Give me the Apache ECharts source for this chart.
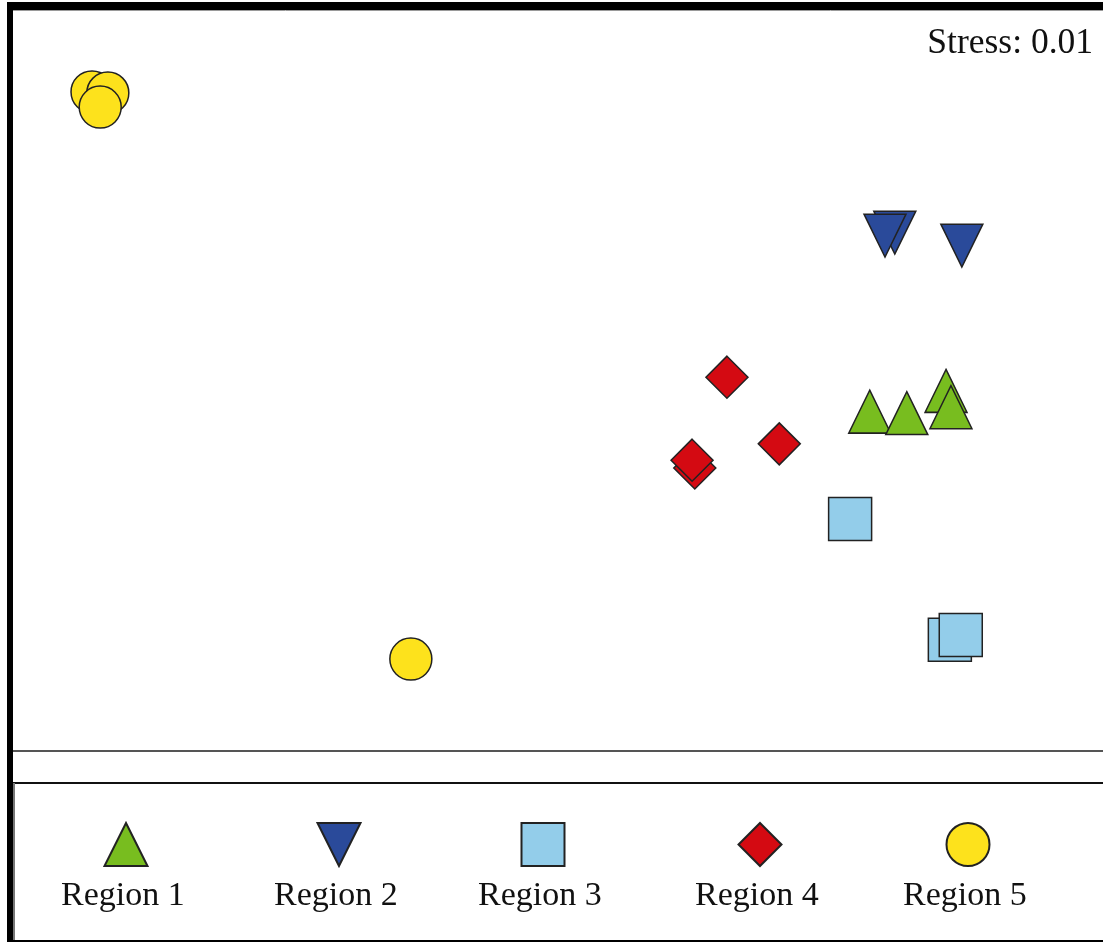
<!DOCTYPE html>
<html>
<head>
<meta charset="utf-8">
<title>NMDS ordination by region</title>
<script src="https://cdn.jsdelivr.net/npm/echarts@6/dist/echarts.min.js"></script>
<style>
  html, body { margin: 0; padding: 0; background: #ffffff; }
  #chart { width: 1103px; height: 942px; }
</style>
</head>
<body>
<div id="chart"></div>
<script>
// NMDS site scores (axis 1, axis 2) for each region
const regionNames = ['Region 1', 'Region 2', 'Region 3', 'Region 4', 'Region 5'];
const region1 = [[0.572, -0.084], [0.640, -0.088], [0.712, -0.028], [0.721, -0.072]];
const region2 = [[0.618, 0.399], [0.600, 0.391], [0.741, 0.364]];
const region3 = [[0.536, -0.374], [0.719, -0.700], [0.739, -0.687]];
const region4 = [[0.310, 0.009], [0.406, -0.171], [0.251, -0.236], [0.246, -0.215]];
const region5 = [[-0.855, 0.779], [-0.826, 0.776], [-0.840, 0.738], [-0.270, -0.752]];
const stressValue = 0.01;

const regionData = [region1, region2, region3, region4, region5];
const regionColors = ['#78bd1f', '#2a4a9a', '#93cdea', '#d40a12', '#fde21c'];
const downTriangle = 'path://M0,0 L2,0 L1,2 Z';
const regionSymbols = ['triangle', downTriangle, 'rect', 'diamond', 'circle'];
const regionSizes = [[42, 43], [42, 43], 43, 42, 42];
const legendCenters = [125, 338, 542, 759, 967];

const serif = '"Liberation Serif", "Times New Roman", serif';

const series = regionNames.map((name, i) => ({
  name: name,
  type: 'scatter',
  data: regionData[i],
  symbol: regionSymbols[i],
  symbolSize: regionSizes[i],
  itemStyle: {
    color: regionColors[i],
    borderColor: '#222222',
    borderWidth: 1.5,
    opacity: 1
  },
  emphasis: { disabled: true },
  z: 3
}));

// one legend block per region: icon only, the name is written underneath
const legends = regionNames.map((name, i) => ({
  data: [{ name: name, icon: regionSymbols[i] }],
  left: legendCenters[i] - 21.5,
  top: 822,
  padding: 0,
  itemWidth: 43,
  itemHeight: 43,
  itemGap: 0,
  selectedMode: false,
  formatter: () => '',
  textStyle: { fontSize: 1 }
}));

const legendLabels = regionNames.map((name, i) => ({
  type: 'text',
  left: legendCenters[i] + 6 - 70,
  top: 879,
  style: {
    text: name,
    width: 140,
    align: 'center',
    font: '34px ' + serif,
    fill: '#111111'
  },
  z: 10
}));

const frame = [
  // heavy outer frame on the top and left
  { type: 'rect', shape: { x: 7, y: 2, width: 1096, height: 8 }, style: { fill: '#000000' }, z: 20 },
  { type: 'rect', shape: { x: 7, y: 2, width: 6, height: 940 }, style: { fill: '#000000' }, z: 20 },
  { type: 'line', shape: { x1: 13, y1: 10.5, x2: 1103, y2: 10.5 }, style: { stroke: '#9a9a9a', lineWidth: 1 }, z: 20 },
  // legend box
  { type: 'line', shape: { x1: 13, y1: 783, x2: 1103, y2: 783 }, style: { stroke: '#111111', lineWidth: 2 }, z: 20 },
  { type: 'line', shape: { x1: 14, y1: 783, x2: 14, y2: 941 }, style: { stroke: '#777777', lineWidth: 2 }, z: 20 },
  { type: 'line', shape: { x1: 13, y1: 941, x2: 1103, y2: 941 }, style: { stroke: '#000000', lineWidth: 2 }, z: 20 },
  // stress annotation
  {
    type: 'text',
    right: 10,
    top: 26,
    style: {
      text: 'Stress: ' + stressValue.toFixed(2),
      font: '35.5px ' + serif,
      fill: '#111111'
    },
    z: 10
  }
];

const chart = echarts.init(document.getElementById('chart'), null, { renderer: 'canvas' });
chart.setOption({
  animation: false,
  backgroundColor: '#ffffff',
  grid: { left: 13, right: 0, top: 10, bottom: 191 },
  xAxis: {
    type: 'value',
    min: -1,
    max: 1,
    axisLine: { show: true, onZero: false, lineStyle: { color: '#555555', width: 2 } },
    axisTick: { show: false },
    axisLabel: { show: false },
    splitLine: { show: false }
  },
  yAxis: {
    type: 'value',
    min: -1,
    max: 1,
    axisLine: { show: false },
    axisTick: { show: false },
    axisLabel: { show: false },
    splitLine: { show: false }
  },
  legend: legends,
  series: series,
  graphic: frame.concat(legendLabels)
});
</script>
</body>
</html>
